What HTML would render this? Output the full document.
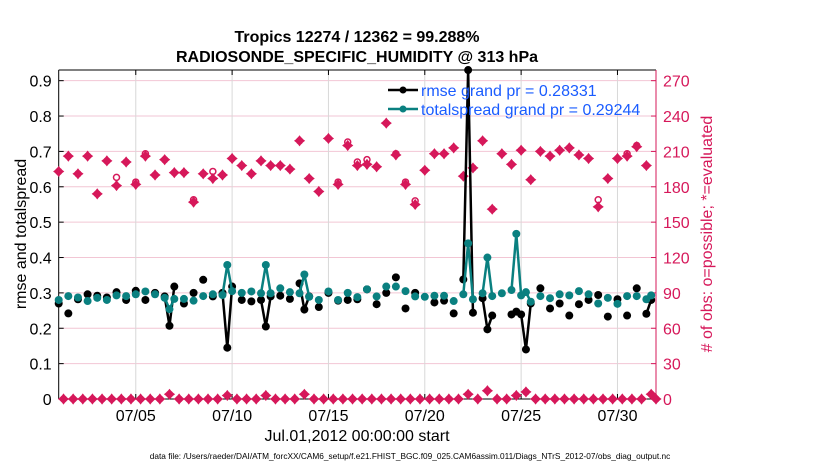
<!DOCTYPE html>
<html><head><meta charset="utf-8"><style>
html,body{margin:0;padding:0;background:#fff;}
svg{display:block;font-family:"Liberation Sans",Arial,sans-serif;}
</style></head><body>
<svg id="chart" width="830" height="470" viewBox="0 0 830 470" xmlns="http://www.w3.org/2000/svg">
<text x="357" y="42" text-anchor="middle" font-size="16" font-weight="bold">Tropics 12274 / 12362 = 99.288%</text>
<text x="357" y="62" text-anchor="middle" font-size="16" font-weight="bold">RADIOSONDE_SPECIFIC_HUMIDITY @ 313 hPa</text>
<g id="grid"></g>
<g id="axes"></g>
<g id="marks"></g>
<text transform="translate(26,234) rotate(-90)" text-anchor="middle" font-size="16">rmse and totalspread</text>
<text transform="translate(712,234) rotate(-90)" text-anchor="middle" font-size="16" fill="#d6185a"># of obs: o=possible; *=evaluated</text>
<text x="357" y="441" text-anchor="middle" font-size="16">Jul.01,2012 00:00:00 start</text>
<text x="410" y="459" text-anchor="middle" font-size="8.3">data file: /Users/raeder/DAI/ATM_forcXX/CAM6_setup/f.e21.FHIST_BGC.f09_025.CAM6assim.011/Diags_NTrS_2012-07/obs_diag_output.nc</text>
<g id="legend">
  <line x1="388" y1="90" x2="418" y2="90" stroke="#000" stroke-width="2.5"/><circle cx="403" cy="90" r="3.5" fill="#000"/>
  <text x="421" y="96" font-size="16" fill="#1a5cff">rmse grand pr = 0.28331</text>
  <line x1="388" y1="109" x2="418" y2="109" stroke="#0a8080" stroke-width="2.5"/><circle cx="403" cy="109" r="3.5" fill="#0a8080"/>
  <text x="421" y="115" font-size="16" fill="#1a5cff">totalspread grand pr = 0.29244</text>
</g>
</svg>
<script>
// 6-hourly slots, slot j -> day j/4 from Jul 01 00Z
const rmse = [.27,null,.242,null,.282,null,.296,null,.292,null,
.287,null,.302,null,.28,null,.306,null,.28,null,
.30,null,.29,.207,.318,null,.27,null,.30,null,
.337,null,.29,null,.30,.145,.318,null,.28,null,
.276,null,.28,.205,.29,null,.292,null,.283,null,
.327,.253,.29,null,.26,null,.30,null,.278,null,
.28,null,.282,null,.31,null,.268,null,.30,null,
.344,null,.256,null,.30,null,null,null,.273,null,
.278,null,.242,null,.338,.93,.244,null,.285,.197,
.236,null,null,null,.239,.247,.239,.14,.27,null,
.313,null,.256,null,.27,null,.236,null,.268,null,
.28,null,.294,null,.233,null,.282,null,.236,null,
.313,null,.241,.28,null];
const spread = [.28,null,.291,null,.287,null,.277,null,.286,null,
.28,null,.293,null,.291,null,.296,null,.304,null,
.296,null,.286,.254,.283,null,.283,null,.278,null,
.291,null,.296,null,.294,.379,.305,null,.30,null,
.304,null,.299,.379,.299,null,.313,null,.302,null,
.299,.352,.289,null,.28,null,.304,null,.28,null,
.30,null,.288,null,.31,null,.29,null,.318,null,
.318,null,.305,null,.29,null,.289,null,.292,null,
.292,null,.277,null,.296,.44,.282,null,.299,.40,
.291,null,.299,null,.308,.467,.293,.302,.275,null,
.291,null,.285,null,.296,null,.293,null,.305,null,
.296,null,.27,null,.286,null,.269,null,.291,null,
.291,null,.282,.293,null];
const obsEvaluated = [193,0,206,0,191,0,206,0,174,0,
202,0,181,0,201,0,182,0,206,0,
190,0,203,4,192,0,192,0,167,0,
191,0,187,0,190,3,204,0,198,0,
191,0,202,3,198,0,198,0,195,0,
219,4,187,0,176,0,221,0,182,0,
215,0,198,0,199,0,197,0,234,0,
207,0,182,0,165,0,194,0,208,0,
208,0,213,0,189,4,196,0,219,7,
161,0,208,0,199,3,211,6,186,0,
210,0,206,0,211,0,213,0,207,0,
204,0,163,0,187,0,204,0,206,0,
214,0,198,4,0];
const obsPossible = [193,0,206,0,191,0,206,0,174,0,
202,0,188,0,201,0,184,0,208,0,
190,0,203,4,192,0,192,0,169,0,
191,0,193,0,190,3,204,0,198,0,
191,0,202,3,198,0,198,0,195,0,
219,4,187,0,176,0,221,0,184,0,
218,0,201,0,203,0,197,0,234,0,
208,0,184,0,168,0,194,0,208,0,
208,0,213,0,189,4,196,0,219,7,
161,0,208,0,199,3,211,6,186,0,
210,0,206,0,211,0,213,0,207,0,
204,0,169,0,187,0,204,0,208,0,
215,0,198,4,0];
const leftTicks = [0,0.1,0.2,0.3,0.4,0.5,0.6,0.7,0.8,0.9];
const leftTickLabels = ["0","0.1","0.2","0.3","0.4","0.5","0.6","0.7","0.8","0.9"];
const rightTicks = [0,30,60,90,120,150,180,210,240,270];
const xTickDays = [4,9,14,19,24,29];
const xTickLabels = ["07/05","07/10","07/15","07/20","07/25","07/30"];

const NS="http://www.w3.org/2000/svg";
const L=58.7,R=656,T=70,B=399;
const xScale=d=>L+d*(R-L)/31;
const yL=v=>B-v*353.7;
const yR=c=>B-c/300*353.7;
const slotDay=j=>j/4;
const CR="#d6185a";
function mk(tag,attrs,parent){const e=document.createElementNS(NS,tag);for(const k in attrs)e.setAttribute(k,attrs[k]);parent.appendChild(e);return e;}
const grid=document.getElementById('grid'),axes=document.getElementById('axes'),marks=document.getElementById('marks');
mk('rect',{x:L,y:T,width:R-L,height:B-T,fill:'#fff'},grid);
leftTicks.forEach((v,i)=>{
  const g=mk('line',{x1:L,x2:R,y1:yL(v),y2:yL(v),stroke:'#f2c6d4','stroke-width':1},grid);
  
  
  mk('line',{x1:L,x2:L+5,y1:yL(v),y2:yL(v),stroke:'#000'},axes);
  const t=mk('text',{x:L-7,y:yL(v)+6,'text-anchor':'end','font-size':16},axes);
  t.textContent=leftTickLabels[i];
  
  
});
rightTicks.forEach(c=>{
  mk('line',{x1:R-5,x2:R,y1:yR(c),y2:yR(c),stroke:CR},axes);
  const t=mk('text',{x:R+7,y:yR(c)+6,'font-size':16,fill:CR},axes);
  t.textContent=String(c);
  
  
});
xTickDays.forEach((d,i)=>{
  const g=mk('line',{x1:xScale(d),x2:xScale(d),y1:T,y2:B,stroke:'#d8d8d8'},grid);
  
  
  mk('line',{x1:xScale(d),x2:xScale(d),y1:B,y2:B-5,stroke:'#000'},axes);
  mk('line',{x1:xScale(d),x2:xScale(d),y1:T,y2:T+5,stroke:'#000'},axes);
  const t=mk('text',{x:xScale(d),y:B+22,'text-anchor':'middle','font-size':16},axes);
  t.textContent=xTickLabels[i];
  
  
});
mk('line',{x1:L,x2:R,y1:T,y2:T,stroke:'#000'},axes);
mk('line',{x1:L,x2:R,y1:B,y2:B,stroke:'#000'},axes);
mk('line',{x1:L,x2:L,y1:T,y2:B,stroke:'#000'},axes);
mk('line',{x1:R,x2:R,y1:T,y2:B,stroke:CR},axes);

function star(cx,cy){
  const s=4.6,w=2.0;
  return `M${cx-s},${cy} L${cx-w},${cy-w} L${cx},${cy-s} L${cx+w},${cy-w} L${cx+s},${cy} L${cx+w},${cy+w} L${cx},${cy+s} L${cx-w},${cy+w}Z`;
}
obsPossible.forEach((c,j)=>{
  if(c==null)return;
  const e=mk('circle',{cx:xScale(slotDay(j)),cy:yR(c),r:3,fill:'#fff',stroke:CR,'stroke-width':1.5},marks);
  
  
});
obsEvaluated.forEach((c,j)=>{
  if(c==null)return;
  const cx=xScale(slotDay(j)),cy=yR(c);
  const e=mk('path',{d:star(cx,cy),fill:CR,stroke:CR,'stroke-width':1.2},marks);
  
  
});
function series(arr,color,name){
  let seg=[];
  const flush=()=>{if(seg.length>1){const p=mk('polyline',{points:seg.join(' '),fill:'none',stroke:color,'stroke-width':2.5},marks);}seg=[];};
  arr.forEach((v,j)=>{if(v==null){flush();return;}seg.push(xScale(slotDay(j))+','+yL(v));});
  flush();
  arr.forEach((v,j)=>{
    if(v==null)return;
    const c=mk('circle',{cx:xScale(slotDay(j)),cy:yL(v),r:4,fill:color},marks);
    
    
  });
}
series(rmse,'#000','rmse');
series(spread,'#0a8080','totalspread');
</script>
</body></html>
